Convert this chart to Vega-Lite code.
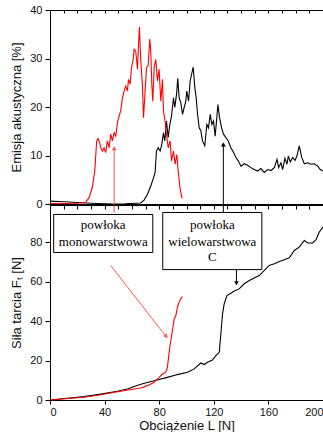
{
  "$schema": "https://vega.github.io/schema/vega-lite/v6.json",
  "padding": {"left": 10, "top": 3, "right": 0, "bottom": 0},
  "spacing": 1,
  "bounds": "flush",
  "config": {
    "view": {"stroke": "black", "strokeWidth": 1},
    "axis": {"labelFont": "Liberation Sans", "titleFont": "Liberation Sans", "labelFontSize": 11, "titleFontSize": 13, "titleFontWeight": "normal", "labelColor": "#111", "titleColor": "#111", "domainColor": "black", "tickColor": "black", "grid": false, "labelOverlap": false, "tickSize": 5, "labelPadding": 3}
  },
  "datasets": {
    "ae_mono": [
      {"L":0,"AE":0.1},{"L":10,"AE":0.1},{"L":20,"AE":0.15},{"L":26,"AE":0.3},{"L":28.6,"AE":1.3},{"L":31,"AE":3.4},{"L":32.8,"AE":6.8},{"L":34.2,"AE":13},{"L":35.2,"AE":13.5},{"L":36.4,"AE":12.6},{"L":37.2,"AE":11.6},{"L":38.4,"AE":10.9},{"L":39.6,"AE":11.6},{"L":40.8,"AE":10.6},{"L":42,"AE":13},{"L":43.3,"AE":11.6},{"L":44.5,"AE":14.4},{"L":45.7,"AE":13},{"L":47,"AE":14.7},{"L":48.2,"AE":14},{"L":49.4,"AE":16.8},{"L":50.6,"AE":18.1},{"L":51.8,"AE":19.2},{"L":53.1,"AE":21.9},{"L":54.3,"AE":23.3},{"L":55.5,"AE":24.3},{"L":56.7,"AE":23.3},{"L":57.5,"AE":25.7},{"L":58.7,"AE":24.7},{"L":59.7,"AE":28.1},{"L":60.9,"AE":29.8},{"L":61.6,"AE":31.9},{"L":62.8,"AE":31.5},{"L":64.1,"AE":27.8},{"L":64.8,"AE":32.6},{"L":65.5,"AE":36.5},{"L":66.5,"AE":29.5},{"L":67.7,"AE":24.7},{"L":68.5,"AE":17.8},{"L":69.4,"AE":21.9},{"L":70.7,"AE":28.1},{"L":71.9,"AE":28.5},{"L":73.1,"AE":34},{"L":73.8,"AE":31.5},{"L":74.6,"AE":24.7},{"L":75.3,"AE":21.2},{"L":76.3,"AE":28.1},{"L":77.5,"AE":29.8},{"L":78.7,"AE":25.4},{"L":79.9,"AE":27.8},{"L":81.2,"AE":21.2},{"L":82.4,"AE":25.7},{"L":83.1,"AE":19.2},{"L":84.1,"AE":17.5},{"L":85.3,"AE":14.4},{"L":86.6,"AE":11.6},{"L":88,"AE":13},{"L":89,"AE":8.9},{"L":90.5,"AE":10.9},{"L":91.7,"AE":8.2},{"L":92.9,"AE":10.2},{"L":93.9,"AE":6.8},{"L":95.1,"AE":3.7},{"L":96.3,"AE":1.6},{"L":97,"AE":1.2}
    ],
    "ae_multi": [
      {"L":0,"AE":0.6},{"L":10,"AE":0.45},{"L":20,"AE":0.3},{"L":30,"AE":0.15},{"L":40,"AE":0.05},{"L":47,"AE":0},{"L":55,"AE":0.05},{"L":66.5,"AE":0.2},{"L":68.9,"AE":0.8},{"L":71.4,"AE":2},{"L":73.8,"AE":3.7},{"L":75.8,"AE":5.4},{"L":77,"AE":6.5},{"L":78,"AE":10.9},{"L":79.2,"AE":11.6},{"L":80.7,"AE":10.9},{"L":81.9,"AE":12.3},{"L":83.1,"AE":14.7},{"L":84.1,"AE":13},{"L":85.3,"AE":17.1},{"L":86.6,"AE":13.7},{"L":87.8,"AE":16.4},{"L":89,"AE":18.1},{"L":90.5,"AE":21.9},{"L":91.4,"AE":19.9},{"L":92.7,"AE":22.6},{"L":93.6,"AE":25.9},{"L":94.6,"AE":21.9},{"L":95.8,"AE":20.9},{"L":97.1,"AE":18.5},{"L":98.3,"AE":19.9},{"L":99.5,"AE":21.2},{"L":100.2,"AE":23.3},{"L":101.5,"AE":21.2},{"L":102.7,"AE":25.4},{"L":103.7,"AE":26.7},{"L":104.9,"AE":28.2},{"L":106.1,"AE":24},{"L":107.1,"AE":21.9},{"L":108.1,"AE":18.5},{"L":109.3,"AE":15.7},{"L":110.5,"AE":15.1},{"L":111.7,"AE":13},{"L":113.4,"AE":12},{"L":114.9,"AE":16.4},{"L":116.1,"AE":15.7},{"L":117.4,"AE":18.5},{"L":118.6,"AE":16.4},{"L":119.8,"AE":17.1},{"L":121,"AE":14},{"L":122,"AE":17.1},{"L":123,"AE":20.5},{"L":124.2,"AE":17.8},{"L":125.7,"AE":15.7},{"L":127.1,"AE":14.4},{"L":128.9,"AE":13.7},{"L":130.6,"AE":13},{"L":132.5,"AE":11.6},{"L":134.5,"AE":10.6},{"L":136.2,"AE":9.6},{"L":137.9,"AE":8.9},{"L":139.9,"AE":7.8},{"L":142.3,"AE":8.3},{"L":144.7,"AE":8},{"L":147.2,"AE":7.5},{"L":149.6,"AE":7.1},{"L":152.1,"AE":6.8},{"L":154.5,"AE":7.3},{"L":157,"AE":6.5},{"L":159.4,"AE":7.1},{"L":161.9,"AE":6.9},{"L":164.3,"AE":7.5},{"L":166.3,"AE":9.2},{"L":167.5,"AE":7.5},{"L":169.2,"AE":8.5},{"L":170.4,"AE":7.1},{"L":172.1,"AE":9.4},{"L":173.6,"AE":8.2},{"L":174.6,"AE":9.9},{"L":176,"AE":8.7},{"L":177.8,"AE":9.6},{"L":179.5,"AE":9},{"L":180.9,"AE":9.9},{"L":182.6,"AE":12},{"L":184.4,"AE":9.6},{"L":186.3,"AE":8.3},{"L":188.8,"AE":8.5},{"L":191.2,"AE":8.2},{"L":193.6,"AE":8.3},{"L":196.1,"AE":7.8},{"L":198,"AE":7.1},{"L":200,"AE":6.8}
    ],
    "ft_mono": [
      {"L":0,"F":0},{"L":25,"F":1.4},{"L":37.2,"F":2.7},{"L":49.4,"F":4.2},{"L":61.6,"F":5.6},{"L":66.5,"F":6.1},{"L":71.4,"F":7.3},{"L":76.3,"F":9},{"L":80,"F":11.5},{"L":82.4,"F":13.2},{"L":84.8,"F":14.1},{"L":86,"F":16.6},{"L":87.3,"F":24.2},{"L":88.5,"F":30.2},{"L":89.7,"F":35.3},{"L":91,"F":41.2},{"L":92.2,"F":42.9},{"L":93.4,"F":47.1},{"L":94.6,"F":49.7},{"L":95.8,"F":51.4},{"L":97,"F":52.5}
    ],
    "ft_multi": [
      {"L":0,"F":0},{"L":12.7,"F":0.85},{"L":25,"F":1.7},{"L":37.2,"F":3},{"L":49.4,"F":4.4},{"L":56.7,"F":5.6},{"L":61.6,"F":6.9},{"L":69,"F":8.5},{"L":76.3,"F":9.8},{"L":86,"F":11.5},{"L":93.4,"F":12.9},{"L":100.7,"F":14.1},{"L":105.6,"F":15.8},{"L":110.5,"F":18.8},{"L":113,"F":18},{"L":115.4,"F":19.2},{"L":119,"F":20.3},{"L":121.5,"F":22.5},{"L":124,"F":24.2},{"L":125.2,"F":33.6},{"L":126.4,"F":43.7},{"L":127.6,"F":48.8},{"L":129.6,"F":53},{"L":132.5,"F":54.2},{"L":135,"F":55.3},{"L":138.6,"F":56.4},{"L":142.3,"F":59},{"L":146,"F":60.7},{"L":149.6,"F":61.9},{"L":153.3,"F":63.2},{"L":157,"F":65.8},{"L":160.6,"F":68.3},{"L":164.3,"F":69.2},{"L":168,"F":70.3},{"L":171.6,"F":71.2},{"L":175.3,"F":72.2},{"L":179,"F":75.9},{"L":182.6,"F":77.6},{"L":186.3,"F":81},{"L":188.8,"F":79.7},{"L":192.4,"F":79.7},{"L":194.9,"F":81.4},{"L":197.3,"F":85.3},{"L":200,"F":87.8}
    ],
    "arrows_top": [
      {"L":47,"y0":-1.8,"y1":11.5,"s":"mono"},
      {"L":127,"y0":-1.8,"y1":12.3,"s":"multi"}
    ],
    "boxes": [
      {"x":2.7,"x2":75.3,"y":94.2,"y2":74.9},
      {"x":82.6,"x2":155.2,"y":95.2,"y2":66.2}
    ],
    "labels": [
      {"L":39,"F":88.6,"t":"powłoka"},
      {"L":39,"F":80.1,"t":"monowarstwowa"},
      {"L":118.9,"F":88.6,"t":"powłoka"},
      {"L":118.9,"F":80.1,"t":"wielowarstwowa"},
      {"L":118.9,"F":72.5,"t":"C"}
    ],
    "arrow_lines": [
      {"x":44.5,"y":68.3,"x2":85.6,"y2":31.7,"s":"mono"},
      {"x":136.6,"y":66.2,"x2":136.6,"y2":58.5,"s":"multi"}
    ],
    "arrow_heads": [
      {"L":85.2,"F":32.3,"s":"mono","ang":142},
      {"L":136.6,"F":59.3,"s":"multi","ang":180}
    ]
  },
  "vconcat": [
    {
      "width": 273,
      "height": 194,
      "resolve": {"axis": {"x": "independent"}},
      "layer": [
        {
          "data": {"name": "ae_multi"},
          "mark": {"type": "line", "color": "black", "strokeWidth": 1.1},
          "encoding": {
            "x": {"field": "L", "type": "quantitative", "scale": {"domain": [0, 200], "nice": false},
                  "axis": {"orient": "bottom", "title": null, "labels": false, "values": [0,10,20,30,40,50,60,70,80,90,100,110,120,130,140,150,160,170,180,190,200]}},
            "y": {"field": "AE", "type": "quantitative", "scale": {"domain": [0, 40], "nice": false},
                  "axis": {"title": "Emisja akustyczna [%]", "values": [0,5,10,15,20,25,30,35,40], "labelExpr": "datum.value % 10 == 0 ? datum.label : ''", "titlePadding": 6}}
          }
        },
        {
          "data": {"name": "ae_mono"},
          "mark": {"type": "line", "color": "#ff0000", "strokeWidth": 1.1},
          "encoding": {
            "x": {"field": "L", "type": "quantitative",
                  "axis": {"orient": "top", "title": null, "labels": false, "domain": false, "tickSize": -3, "values": [0,10,20,30,40,50,60,70,80,90,100,110,120,130,140,150,160,170,180,190,200]}},
            "y": {"field": "AE", "type": "quantitative"}
          }
        },
        {
          "data": {"name": "arrows_top"},
          "mark": {"type": "rule", "strokeWidth": 1},
          "encoding": {
            "x": {"field": "L", "type": "quantitative", "axis": null},
            "y": {"field": "y0", "type": "quantitative"},
            "y2": {"field": "y1"},
            "color": {"field": "s", "type": "nominal", "scale": {"domain": ["mono", "multi"], "range": ["#ff5555", "black"]}, "legend": null}
          }
        },
        {
          "data": {"name": "arrows_top"},
          "mark": {"type": "point", "shape": "triangle-up", "filled": true, "size": 22, "opacity": 1},
          "encoding": {
            "x": {"field": "L", "type": "quantitative", "axis": null},
            "y": {"field": "y1", "type": "quantitative"},
            "color": {"field": "s", "type": "nominal", "scale": {"domain": ["mono", "multi"], "range": ["#ff5555", "black"]}, "legend": null}
          }
        }
      ]
    },
    {
      "width": 273,
      "height": 195,
      "layer": [
        {
          "data": {"name": "ft_multi"},
          "mark": {"type": "line", "color": "black", "strokeWidth": 1.1},
          "encoding": {
            "x": {"field": "L", "type": "quantitative", "scale": {"domain": [0, 200], "nice": false},
                  "axis": {"title": "Obciążenie L [N]", "values": [0,10,20,30,40,50,60,70,80,90,100,110,120,130,140,150,160,170,180,190,200], "labelExpr": "datum.value % 20 == 0 ? datum.label : ''", "tickSize": 4, "labelPadding": 2, "titlePadding": 2}},
            "y": {"field": "F", "type": "quantitative", "scale": {"domain": [0, 99], "nice": false},
                  "axis": {"title": "Siła tarcia Fₜ [N]", "values": [0,10,20,30,40,50,60,70,80,90], "labelExpr": "datum.value % 20 == 0 ? datum.label : ''", "titlePadding": 6}}
          }
        },
        {
          "data": {"name": "ft_mono"},
          "mark": {"type": "line", "color": "#ff0000", "strokeWidth": 1.1},
          "encoding": {
            "x": {"field": "L", "type": "quantitative"},
            "y": {"field": "F", "type": "quantitative"}
          }
        },
        {
          "data": {"name": "boxes"},
          "mark": {"type": "rect", "fill": "white", "stroke": "black", "strokeWidth": 1},
          "encoding": {
            "x": {"field": "x", "type": "quantitative"},
            "x2": {"field": "x2"},
            "y": {"field": "y", "type": "quantitative"},
            "y2": {"field": "y2"}
          }
        },
        {
          "data": {"name": "labels"},
          "mark": {"type": "text", "font": "Liberation Serif", "fontSize": 13, "color": "black", "align": "center", "baseline": "middle"},
          "encoding": {
            "x": {"field": "L", "type": "quantitative"},
            "y": {"field": "F", "type": "quantitative"},
            "text": {"field": "t"}
          }
        },
        {
          "data": {"name": "arrow_lines"},
          "mark": {"type": "rule", "strokeWidth": 1},
          "encoding": {
            "x": {"field": "x", "type": "quantitative"},
            "y": {"field": "y", "type": "quantitative"},
            "x2": {"field": "x2"},
            "y2": {"field": "y2"},
            "color": {"field": "s", "type": "nominal", "scale": {"domain": ["mono", "multi"], "range": ["#ff0000", "black"]}, "legend": null}
          }
        },
        {
          "data": {"name": "arrow_heads"},
          "mark": {"type": "point", "shape": "triangle-up", "filled": true, "size": 22, "opacity": 1},
          "encoding": {
            "x": {"field": "L", "type": "quantitative"},
            "y": {"field": "F", "type": "quantitative"},
            "angle": {"field": "ang", "type": "quantitative", "scale": null},
            "color": {"field": "s", "type": "nominal", "scale": {"domain": ["mono", "multi"], "range": ["#ff0000", "black"]}, "legend": null}
          }
        }
      ]
    }
  ]
}
